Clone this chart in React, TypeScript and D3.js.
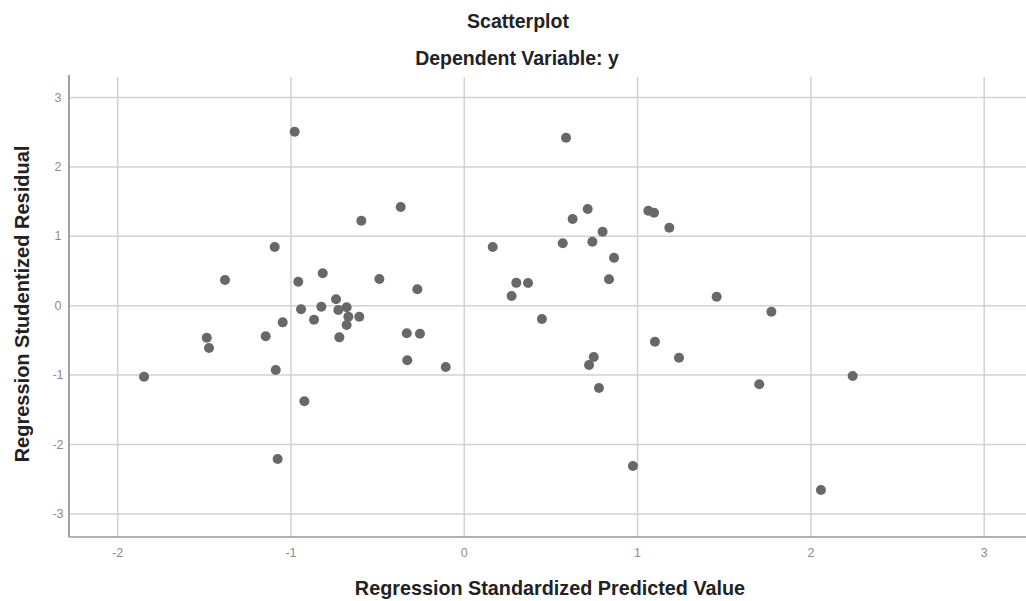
import React, { useEffect, useRef } from 'react';
import * as d3 from 'd3';

// Regression Standardized Predicted Value
const predicted = [
  -0.979, -0.594, -0.367, -1.094, -1.381, -0.958, -0.817, -0.490, -0.271, 0.164,
  0.300, 0.368, 0.273, 0.587, 0.712, 0.625, 0.798, 0.568, 0.739, 0.864,
  0.835, 1.456, 1.062, 1.095, 1.183, -0.942, -0.825, -0.740, -0.679, -0.727,
  -0.669, -0.679, -0.606, -0.721, -0.867, -1.048, -1.146, -1.486, -1.473, -1.848,
  -1.088, -0.923, -1.077, -0.332, -0.256, -0.329, -0.107, 0.448, 1.772, 1.100,
  1.239, 0.747, 0.720, 0.777, 1.702, 2.241, 0.973, 2.058,
];

// Regression Studentized Residual
const residual = [
  2.507, 1.225, 1.422, 0.846, 0.370, 0.346, 0.467, 0.385, 0.236, 0.846,
  0.329, 0.327, 0.140, 2.421, 1.393, 1.249, 1.066, 0.899, 0.922, 0.692,
  0.380, 0.130, 1.369, 1.340, 1.124, -0.052, -0.014, 0.092, -0.023, -0.062,
  -0.158, -0.278, -0.158, -0.456, -0.202, -0.240, -0.441, -0.461, -0.610, -1.023,
  -0.926, -1.378, -2.209, -0.398, -0.403, -0.787, -0.883, -0.192, -0.086, -0.519,
  -0.749, -0.739, -0.854, -1.186, -1.133, -1.013, -2.310, -2.656,
];

const xTicks = [-2, -1, 0, 1, 2, 3];
const yTicks = [-3, -2, -1, 0, 1, 2, 3];

const App = () => {
  const ref = useRef(null);

  useEffect(() => {
    if (!ref.current) return;
    const width = 1026, height = 601;
    const left = 69, right = 1026, top = 75, bottom = 537;
    const font = 'Liberation Sans, Arial, sans-serif';

    const svg = d3.select(ref.current);
    svg.selectAll('*').remove();
    svg.attr('width', width).attr('height', height);

    const x = d3.scaleLinear().domain([0, 1]).range([464.3, 637.6]);
    const y = d3.scaleLinear().domain([0, 1]).range([305.7, 236.3]);

    svg.append('rect').attr('width', width).attr('height', height).attr('fill', '#fff');

    // grid
    svg.append('g')
      .selectAll('line')
      .data(yTicks)
      .enter()
      .append('line')
      .attr('x1', left)
      .attr('x2', right)
      .attr('y1', d => y(d))
      .attr('y2', d => y(d))
      .attr('stroke', '#d2d2d2')
      .attr('stroke-width', 1.5);

    svg.append('g')
      .selectAll('line')
      .data(xTicks)
      .enter()
      .append('line')
      .attr('x1', d => x(d))
      .attr('x2', d => x(d))
      .attr('y1', top + 2)
      .attr('y2', bottom)
      .attr('stroke', '#d2d2d2')
      .attr('stroke-width', 1.5);

    // axis lines
    svg.append('line')
      .attr('x1', left).attr('x2', left)
      .attr('y1', top).attr('y2', bottom)
      .attr('stroke', '#a0a0a0').attr('stroke-width', 2);
    svg.append('line')
      .attr('x1', left).attr('x2', right)
      .attr('y1', bottom).attr('y2', bottom)
      .attr('stroke', '#9a9a9a').attr('stroke-width', 1.5);

    // tick labels
    svg.append('g')
      .selectAll('text')
      .data(yTicks)
      .enter()
      .append('text')
      .attr('x', 58)
      .attr('y', d => y(d))
      .attr('text-anchor', 'middle')
      .attr('dominant-baseline', 'central')
      .style('font-family', font)
      .style('font-size', '12.5px')
      .style('fill', '#8c8c8c')
      .text(d => d);

    svg.append('g')
      .selectAll('text')
      .data(xTicks)
      .enter()
      .append('text')
      .attr('x', d => x(d))
      .attr('y', 553)
      .attr('text-anchor', 'middle')
      .attr('dominant-baseline', 'central')
      .style('font-family', font)
      .style('font-size', '12.5px')
      .style('fill', '#8c8c8c')
      .text(d => d);

    // points
    svg.append('g')
      .selectAll('circle')
      .data(predicted.map((p, i) => [p, residual[i]]))
      .enter()
      .append('circle')
      .attr('cx', d => x(d[0]))
      .attr('cy', d => y(d[1]))
      .attr('r', 5)
      .style('fill', '#686868');

    // titles
    svg.append('text')
      .attr('x', 518).attr('y', 21)
      .attr('text-anchor', 'middle').attr('dominant-baseline', 'central')
      .style('font-family', font).style('font-weight', 'bold').style('font-size', '19.5px')
      .style('fill', '#222')
      .text('Scatterplot');
    svg.append('text')
      .attr('x', 517).attr('y', 58)
      .attr('text-anchor', 'middle').attr('dominant-baseline', 'central')
      .style('font-family', font).style('font-weight', 'bold').style('font-size', '19.5px')
      .style('fill', '#222')
      .text('Dependent Variable: y');
    svg.append('text')
      .attr('transform', 'translate(22,304) rotate(-90)')
      .attr('text-anchor', 'middle').attr('dominant-baseline', 'central')
      .style('font-family', font).style('font-weight', 'bold').style('font-size', '20px')
      .style('fill', '#222')
      .text('Regression Studentized Residual');
    svg.append('text')
      .attr('x', 550).attr('y', 588)
      .attr('text-anchor', 'middle').attr('dominant-baseline', 'central')
      .style('font-family', font).style('font-weight', 'bold').style('font-size', '19.8px')
      .style('fill', '#222')
      .text('Regression Standardized Predicted Value');
  }, []);

  return <svg ref={ref} style={{ position: 'absolute', left: 0, top: 0 }} />;
};

export default App;
